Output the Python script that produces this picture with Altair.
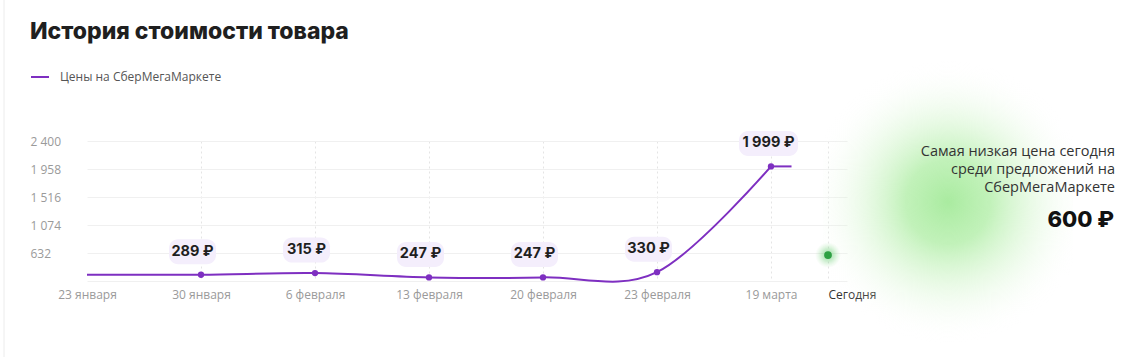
import altair as alt
import pandas as pd

# ---------------- data ----------------
dates = ["23 января", "30 января", "6 февраля", "13 февраля", "20 февраля", "23 февраля", "19 марта"]
line_x = [0, 1, 2, 3, 4, 5, 6]
line_prices = [289, 289, 315, 247, 247, 330, 1999]
tail_x = [6, 6.18]
tail_prices = [1999, 1999]
marker_x = [1, 2, 3, 4, 5, 6]
marker_prices = [289, 315, 247, 247, 330, 1999]
marker_labels = ["289 ₽", "315 ₽", "247 ₽", "247 ₽", "330 ₽", "1 999 ₽"]
today_x = [6.5]
today_price = [600]
today_label = "Сегодня"
y_ticks = [190, 632, 1074, 1516, 1958, 2400]
x_ticks = [0, 1, 2, 3, 4, 5, 6, 6.5]
side_lines = ["Самая низкая цена сегодня", "среди предложений на", "СберМегаМаркете"]
side_price = "600 ₽"
title_text = "История стоимости товара"
series_name = "Цены на СберМегаМаркете"

PURPLE = "#7e2fc1"
GREEN = "#2ea043"
FONT = "Open Sans"
BOLD_FONT = "Inter"

line_df = pd.DataFrame({"x": line_x, "price": line_prices, "series": series_name})
tail_df = pd.DataFrame({"x": tail_x, "price": tail_prices})
mk_df = pd.DataFrame({"x": marker_x, "price": marker_prices, "label": marker_labels})
mk_df["kind"] = ["long" if len(s) > 5 else "short" for s in marker_labels]
today_df = pd.DataFrame({"x": today_x, "price": today_price})
one = pd.DataFrame({"a": [0]})

x_scale = alt.Scale(domain=[0, 20 / 3], nice=False, zero=False)
y_scale = alt.Scale(domain=[190, 2400], nice=False, zero=False)

label_arr = "[" + ",".join("'" + d + "'" for d in dates) + "]"
x_label_expr = f"datum.value == 6.5 ? '{today_label}' : {label_arr}[datum.value]"

x_axis = alt.Axis(
    values=x_ticks,
    labelExpr=x_label_expr,
    title=None,
    domain=False,
    ticks=False,
    labelPadding=8,
    labelFont=FONT,
    labelFontSize=12,
    labelColor={"condition": {"test": "datum.value == 6.5", "value": "#333333"}, "value": "#9a9a9a"},
    labelAlign={"condition": {"test": "datum.value == 6.5", "value": "left"}, "value": "center"},
    labelOverlap=False,
    labelBound=False,
    labelFlush=False,
    grid=True,
    gridColor="#e4e4e4",
    gridDash=[2, 3],
    gridOpacity={"condition": {"test": "datum.value == 0", "value": 0}, "value": 1},
)
y_axis = alt.Axis(
    values=y_ticks,
    labelExpr="datum.value == 190 ? '' : replace(format(datum.value, ','), ',', ' ')",
    title=None,
    domain=False,
    ticks=False,
    tickSize=0,
    labelAlign="left",
    labelBaseline="middle",
    labelPadding=57,
    labelFont=FONT,
    labelFontSize=12,
    labelColor="#9a9a9a",
    labelOverlap=False,
    labelBound=False,
    labelFlush=False,
    grid=True,
    gridColor="#f0f0f0",
)

# ---------------- decorations ----------------
glow_gradient = {
    "gradient": "radial",
    "x1": 0.5, "y1": 0.5, "r1": 0,
    "x2": 0.5, "y2": 0.5, "r2": 0.5,
    "stops": [
        {"offset": 0, "color": "rgba(165,234,155,0.95)"},
        {"offset": 0.3, "color": "rgba(178,238,168,0.8)"},
        {"offset": 0.6, "color": "rgba(210,245,203,0.45)"},
        {"offset": 0.85, "color": "rgba(235,250,232,0.15)"},
        {"offset": 1, "color": "rgba(255,255,255,0)"},
    ],
}
glow = alt.Chart(one).mark_rect(fill=glow_gradient, strokeWidth=0).encode(
    x=alt.value(736), x2=alt.value(986), y=alt.value(-80), y2=alt.value(202)
)

border = alt.Chart(one).mark_rule(color="#ececec", strokeWidth=1).encode(
    x=alt.value(-83), y=alt.value(-141), y2=alt.value(216)
)

title = alt.Chart(one).mark_text(
    text=title_text, align="left", baseline="alphabetic", font=BOLD_FONT,
    fontSize=23, fontWeight=800, color="#1f1f1f"
).encode(x=alt.value(-57), y=alt.value(-102))

side = alt.Chart(one).mark_text(
    text=side_lines, align="right", baseline="alphabetic", font=FONT,
    fontSize=14.5, lineHeight=18, color="#333333"
).encode(x=alt.value(1028), y=alt.value(14.5))

side_p = alt.Chart(one).mark_text(
    text=side_price, align="right", baseline="alphabetic", font=BOLD_FONT,
    fontSize=22, fontWeight=800, color="#111111"
).encode(x=alt.value(1027), y=alt.value(86))

# ---------------- data marks ----------------
base_x = alt.X("x:Q", scale=x_scale, axis=x_axis)
base_y = alt.Y("price:Q", scale=y_scale, axis=y_axis)

line = alt.Chart(line_df).mark_line(strokeWidth=2, interpolate="cardinal", tension=0).encode(
    x=base_x, y=base_y,
    color=alt.Color(
        "series:N",
        scale=alt.Scale(range=[PURPLE]),
        legend=alt.Legend(
            orient="none", legendX=-57, legendY=-74, title=None,
            symbolType="stroke", symbolSize=324, symbolStrokeWidth=2,
            labelFont=FONT, labelFontSize=12, labelColor="#555555", labelOffset=10,
            labelLimit=400, padding=0,
        ),
    ),
)

tail = alt.Chart(tail_df).mark_line(strokeWidth=2, color=PURPLE).encode(x=base_x, y=base_y)

points = alt.Chart(mk_df).mark_point(filled=True, size=40, opacity=1, color=PURPLE).encode(
    x=base_x, y=base_y
)

def pill_path(w, h=25, r=9, left=-32, cy=-23):
    l, rr, t, b = left, left + w, cy - h / 2, cy + h / 2
    return (f"M{l + r},{t} L{rr - r},{t} A{r},{r} 0 0 1 {rr},{t + r} L{rr},{b - r} "
            f"A{r},{r} 0 0 1 {rr - r},{b} L{l + r},{b} A{r},{r} 0 0 1 {l},{b - r} "
            f"L{l},{t + r} A{r},{r} 0 0 1 {l + r},{t} Z")

pills = alt.Chart(mk_df).mark_point(filled=True, size=4, opacity=1, color="#f4eefc", strokeWidth=0).encode(
    x=base_x, y=base_y,
    shape=alt.Shape("kind:N", scale=alt.Scale(domain=["short", "long"],
                                              range=[pill_path(47), pill_path(59)]), legend=None),
)

txt_short = alt.Chart(mk_df).transform_filter("datum.kind == 'short'").mark_text(
    align="center", baseline="middle", dx=-8.5, dy=-23, font=BOLD_FONT,
    fontSize=14.5, fontWeight=700, color="#1f1f1f"
).encode(x=base_x, y=base_y, text="label:N")

txt_long = alt.Chart(mk_df).transform_filter("datum.kind == 'long'").mark_text(
    align="center", baseline="middle", dx=-2.5, dy=-23, font=BOLD_FONT,
    fontSize=14.5, fontWeight=700, color="#1f1f1f"
).encode(x=base_x, y=base_y, text="label:N")

dot_glow_gradient = {
    "gradient": "radial",
    "x1": 0.5, "y1": 0.5, "r1": 0, "x2": 0.5, "y2": 0.5, "r2": 0.5,
    "stops": [
        {"offset": 0, "color": "rgba(60,180,80,0.55)"},
        {"offset": 0.5, "color": "rgba(90,200,100,0.3)"},
        {"offset": 1, "color": "rgba(140,220,140,0)"},
    ],
}
today_glow = alt.Chart(today_df).mark_point(filled=True, size=650, opacity=1, fill=dot_glow_gradient, strokeWidth=0).encode(
    x=base_x, y=base_y
)
today_dot = alt.Chart(today_df).mark_point(filled=True, size=60, opacity=1, color=GREEN).encode(
    x=base_x, y=base_y
)

chart = alt.layer(
    glow, border, line, tail, points, pills, txt_short, txt_long, today_glow, today_dot,
    title, side, side_p
).properties(
    width=760, height=140,
    autosize=alt.AutoSizeParams(type="none"),
    padding={"left": 87, "top": 141, "right": 287, "bottom": 76},
    background="white",
).configure_view(stroke=None).configure_axis(labelOverlap=False)

chart.save("out.html", embed_options={"renderer": "svg", "actions": False})
